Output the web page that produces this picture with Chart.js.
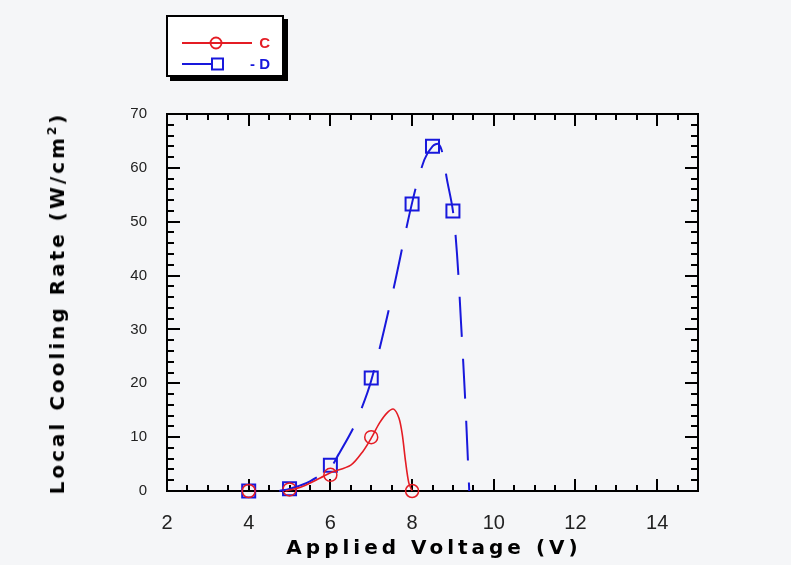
<!DOCTYPE html>
<html>
<head>
<meta charset="utf-8">
<script src="https://cdn.jsdelivr.net/npm/chart.js@4"></script>
<style>
  body { margin: 0; background: #f5f6f8; }
  #wrap { position: relative; width: 791px; height: 565px; }
  #legend {
    position: absolute; left: 166px; top: 15px; width: 114px; height: 58px;
    background: #fff; border: 2px solid #000; box-shadow: 4px 4px 0 #000;
    font: bold 15px "Liberation Sans", Arial, sans-serif;
  }
  .row { position: absolute; left: 0; width: 114px; height: 18px; }
  .row svg { position: absolute; left: 14px; top: 0; }
  .row span { position: absolute; right: 12px; top: 0; line-height: 18px; }
  .axis-title {
    position: absolute; font: bold 20px "DejaVu Sans", sans-serif;
    color: #000; white-space: nowrap;
  }
  #xtitle { left: 434px; top: 535px; transform: translateX(-50%); letter-spacing: 4px; }
  #ytitle { left: 57px; top: 303px; transform: translate(-50%, -50%) rotate(-90deg); letter-spacing: 3px; }
  #ytitle sup { font-size: 12px; }
</style>
</head>
<body>
<div id="wrap">
  <canvas id="chart" width="791" height="565"></canvas>
  <div id="legend">
    <div class="row" style="top:17px">
      <svg width="80" height="18"><line x1="0" y1="9" x2="70" y2="9" stroke="rgb(228,28,36)" stroke-width="2"/><circle cx="34" cy="9" r="5.5" fill="none" stroke="rgb(228,28,36)" stroke-width="1.8"/></svg>
      <span style="color:rgb(228,28,36)">C</span>
    </div>
    <div class="row" style="top:38px">
      <svg width="80" height="18"><line x1="0" y1="9" x2="30" y2="9" stroke="rgb(24,24,220)" stroke-width="2"/><rect x="30" y="3.5" width="11" height="11" fill="none" stroke="rgb(24,24,220)" stroke-width="2"/></svg>
      <span style="color:rgb(24,24,220)">- D</span>
    </div>
  </div>
  <div id="xtitle" class="axis-title">Applied Voltage (V)</div>
  <div id="ytitle" class="axis-title">Local Cooling Rate (W/cm<sup>2</sup>)</div>
</div>
<script>
// measured points
const cVolt = [4, 5, 6, 7, 8];
const cRate = [0, 0.3, 3.0, 10, 0];
const dVolt = [4, 5, 6, 7, 8, 8.5, 9];
const dRate = [0, 0.4, 4.8, 21, 53.3, 64, 52];

// fitted curves
const cFitVolt = [4.9, 5.3, 5.75, 6.0, 6.5, 6.8, 7.0, 7.2, 7.4, 7.55, 7.68, 7.76, 7.84, 7.92, 8.0];
const cFitRate = [0, 0.8, 2.4, 3.4, 4.8, 7.4, 9.8, 12.6, 14.6, 15.2, 13.5, 10.5, 5.5, 1.5, 0];
const dFitVolt = [4.75, 5.0, 5.5, 6.0, 6.2, 6.5, 6.7, 7.0, 7.5, 8.0, 8.3, 8.5, 8.65, 8.75, 8.85, 9.0, 9.1, 9.2, 9.3, 9.4];
const dFitRate = [0, 0.4, 1.8, 4.4, 6.8, 10.8, 14.1, 20.5, 36, 53.5, 61.5, 64, 64.4, 62.5, 58, 52, 44, 31, 17, 0];

const xTicks = [2, 4, 6, 8, 10, 12, 14];
const yTicks = [0, 10, 20, 30, 40, 50, 60, 70];

const RED = 'rgb(228,28,36)';
const BLUE = 'rgb(24,24,220)';

const toPts = (xs, ys) => xs.map((x, i) => ({ x: x, y: ys[i] }));

// frame + inward ticks on all four sides
const frameTicks = {
  id: 'frameTicks',
  beforeDatasetsDraw(chart) {
    const { ctx, chartArea: a, scales: { x, y } } = chart;
    ctx.save();
    ctx.strokeStyle = '#000';
    ctx.lineWidth = 2;
    ctx.strokeRect(a.left, a.top, a.right - a.left, a.bottom - a.top);
    ctx.beginPath();
    for (let v = 2.5; v < 15; v += 0.5) {
      const px = Math.round(x.getPixelForValue(v));
      const len = xTicks.includes(v) ? 12 : 6;
      ctx.moveTo(px, a.bottom); ctx.lineTo(px, a.bottom - len);
      ctx.moveTo(px, a.top); ctx.lineTo(px, a.top + len);
    }
    for (let v = 2; v < 70; v += 2) {
      const py = Math.round(y.getPixelForValue(v));
      const len = yTicks.includes(v) ? 13 : 7;
      ctx.moveTo(a.left, py); ctx.lineTo(a.left + len, py);
      ctx.moveTo(a.right, py); ctx.lineTo(a.right - len, py);
    }
    ctx.stroke();
    ctx.restore();
  }
};

new Chart(document.getElementById('chart'), {
  type: 'scatter',
  data: {
    datasets: [
      {
        label: 'C fit',
        data: toPts(cFitVolt, cFitRate),
        showLine: true,
        borderColor: RED,
        borderWidth: 1.6,
        pointRadius: 0,
        tension: 0.3,
        clip: false
      },
      {
        label: 'D fit',
        data: toPts(dFitVolt, dFitRate),
        showLine: true,
        borderColor: BLUE,
        borderWidth: 2,
        borderDash: [40, 22],
        pointRadius: 0,
        tension: 0.35,
        clip: false
      },
      {
        label: 'C',
        data: toPts(cVolt, cRate),
        pointStyle: 'circle',
        pointRadius: 6.5,
        pointBorderWidth: 1.5,
        borderColor: RED,
        backgroundColor: 'transparent',
        clip: false
      },
      {
        label: 'D',
        data: toPts(dVolt, dRate),
        pointStyle: 'rect',
        pointRadius: 9.2,
        pointBorderWidth: 2,
        borderColor: BLUE,
        backgroundColor: 'transparent',
        clip: false
      }
    ]
  },
  options: {
    responsive: false,
    animation: false,
    layout: { padding: { left: 0, top: 114, right: 93, bottom: 0 } },
    plugins: { legend: { display: false }, tooltip: { enabled: false } },
    scales: {
      x: {
        type: 'linear',
        min: 2,
        max: 15,
        afterBuildTicks: (s) => { s.ticks = xTicks.map(v => ({ value: v })); },
        afterFit: (s) => { s.height = 74; },
        grid: { display: false, drawTicks: false },
        border: { display: false },
        ticks: {
          padding: 20,
          color: '#222',
          font: { family: 'Liberation Sans', size: 20 }
        }
      },
      y: {
        min: 0,
        max: 70,
        afterBuildTicks: (s) => { s.ticks = yTicks.map(v => ({ value: v })); },
        afterFit: (s) => { s.width = 167; },
        grid: { display: false, drawTicks: false },
        border: { display: false },
        ticks: {
          padding: 20,
          color: '#222',
          font: { family: 'Liberation Sans', size: 15 }
        }
      }
    }
  },
  plugins: [frameTicks]
});
</script>
</body>
</html>
